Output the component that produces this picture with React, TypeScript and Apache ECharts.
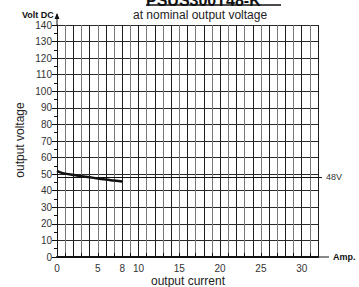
import React, { useEffect, useRef } from "react";
import * as echarts from "echarts";

const title = "PSUS300T48-K";
const subtitle = "at nominal output voltage";
const xLabeled = [0, 5, 8, 10, 15, 20, 25, 30];
const currentA = [0, 0.5, 1, 2, 3, 4, 5, 6, 7, 8];
const voltageV = [52, 50.9, 50.3, 49.5, 48.8, 48.1, 47.4, 46.7, 46.1, 45.5];
const nominalV = 48;

export default function App() {
  const ref = useRef<HTMLDivElement>(null);
  useEffect(() => {
    const chart = echarts.init(ref.current!, null, { renderer: "svg" });
    const font = "Liberation Sans, Arial, sans-serif";
    const gl = 57, gr = 318, gt = 25, gb = 257;
    chart.setOption({
      animation: false,
      textStyle: { fontFamily: font },
      grid: { left: gl, right: 359 - gr, top: gt, bottom: 287 - gb },
      xAxis: {
        type: "value",
        min: 0,
        max: 32,
        interval: 1,
        axisLine: { show: true, lineStyle: { color: "#111", width: 2 } },
        axisTick: { show: true, inside: true, length: 4, lineStyle: { color: "#111" } },
        axisLabel: {
          color: "#333",
          fontSize: 10,
          margin: 6,
          formatter: (v: number) => (xLabeled.includes(v) ? String(v) : ""),
        },
        splitLine: { show: true, lineStyle: { color: ["#1e1e1e", "#777"], width: 1 } },
      },
      yAxis: {
        type: "value",
        min: 0,
        max: 140,
        interval: 10,
        axisLine: { show: true, lineStyle: { color: "#111", width: 1 } },
        axisTick: { show: true, length: 5, lineStyle: { color: "#111" } },
        minorTick: { show: true, splitNumber: 2, length: 3, lineStyle: { color: "#111" } },
        axisLabel: { color: "#333", fontSize: 10, margin: 5 },
        splitLine: { show: true, lineStyle: { color: "#2a2a2a", width: 1 } },
      },
      series: [
        {
          type: "line",
          data: currentA.map((c, i) => [c, voltageV[i]]),
          smooth: true,
          showSymbol: false,
          lineStyle: { color: "#111", width: 2.5 },
          markLine: {
            silent: true,
            symbol: "none",
            data: [{ yAxis: nominalV }],
            lineStyle: { color: "#111", width: 1, type: "solid" },
            label: {
              show: true,
              position: "end",
              formatter: nominalV + "V",
              color: "#333",
              fontSize: 9,
              distance: 8,
            },
          },
        },
      ],
      graphic: [
        { type: "line", shape: { x1: gl, y1: gt, x2: gl, y2: 14 }, style: { stroke: "#111", lineWidth: 1 } },
        { type: "polygon", shape: { points: [[gl - 2.5, 19], [gl + 2.5, 19], [gl, 13]] }, style: { fill: "#111" } },
        { type: "line", shape: { x1: gr, y1: gb, x2: 329, y2: gb }, style: { stroke: "#111", lineWidth: 1 } },
        { type: "line", shape: { x1: gr, y1: 177.5, x2: 322, y2: 177.5 }, style: { stroke: "#111", lineWidth: 1 } },
        {
          type: "text",
          left: 146,
          top: -8,
          style: { text: title, font: `bold 16px ${font}`, fill: "#111" },
        },
        { type: "line", shape: { x1: 146, y1: 5, x2: 281, y2: 5 }, style: { stroke: "#111", lineWidth: 1.5 } },
        {
          type: "text",
          left: 133,
          top: 9,
          style: { text: subtitle, font: `12px ${font}`, fill: "#222" },
        },
        { type: "text", left: 22, top: 10, style: { text: "Volt DC", font: `bold 9px ${font}`, fill: "#111" } },
        { type: "text", left: 333, top: 252, style: { text: "Amp.", font: `bold 9px ${font}`, fill: "#111" } },
        {
          type: "text",
          x: 20,
          y: 140,
          rotation: Math.PI / 2,
          style: { text: "output voltage", font: `12px ${font}`, fill: "#222", align: "center", verticalAlign: "middle" },
        },
        {
          type: "text",
          x: 188,
          y: 281,
          style: { text: "output current", font: `12px ${font}`, fill: "#222", align: "center", verticalAlign: "middle" },
        },
      ],
    });
    return () => chart.dispose();
  }, []);
  return <div ref={ref} style={{ width: 359, height: 287, position: "absolute", left: 0, top: 0 }} />;
}
